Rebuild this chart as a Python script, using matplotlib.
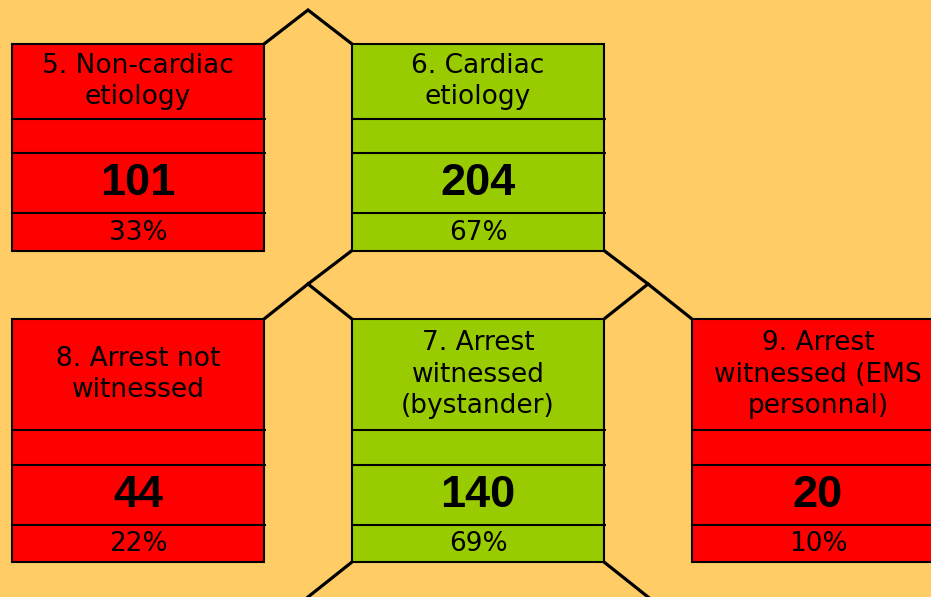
import matplotlib
matplotlib.use("Agg")
import matplotlib.pyplot as plt
from matplotlib.patches import Rectangle

# ---- data ----
titles = ["5. Non-cardiac\netiology", "6. Cardiac\netiology",
          "8. Arrest not\nwitnessed", "7. Arrest\nwitnessed\n(bystander)",
          "9. Arrest\nwitnessed (EMS\npersonnal)"]
counts = [101, 204, 44, 140, 20]
percents = ["33%", "67%", "22%", "69%", "10%"]
colors_key = ["red", "green", "red", "green", "red"]

# ---- layout (pixels) ----
W, H = 931, 597
BG = "#FFCC66"
PAL = {"red": "#FF0000", "green": "#99CC00"}
box_x = [12, 352, 12, 352, 692]
box_w = 252
# rows: top, title bottom, blank bottom, number bottom, bottom
rows = [
    [44, 118.5, 152.5, 212.5, 250.5],
    [44, 118.5, 152.5, 212.5, 250.5],
    [319, 429.5, 465, 524.5, 562],
    [319, 429.5, 465, 524.5, 562],
    [319, 429.5, 465, 524.5, 562],
]

fig = plt.figure(figsize=(W / 100, H / 100), dpi=100)
fig.patch.set_facecolor(BG)
ax = fig.add_axes([0, 0, 1, 1])
ax.set_xlim(0, W)
ax.set_ylim(H, 0)
ax.axis("off")
ax.set_facecolor(BG)

FONT = "DejaVu Sans"
FONT_NUM = "Liberation Sans"
lw_box = 1.5
lw_conn = 2.3

for i in range(len(titles)):
    x0 = box_x[i]
    r = rows[i]
    ax.add_patch(Rectangle((x0, r[0]), box_w, r[4] - r[0],
                           facecolor=PAL[colors_key[i]], edgecolor="black",
                           linewidth=lw_box, zorder=2))
    for yy in r[1:4]:
        ax.plot([x0, x0 + box_w + 2], [yy, yy], color="black",
                linewidth=lw_box, zorder=3, solid_capstyle="butt")
    cx = x0 + box_w / 2
    ax.text(cx, (r[0] + r[1]) / 2 + 0.5, titles[i], ha="center", va="center",
            fontsize=19, family=FONT, linespacing=1.27, zorder=4)
    ax.text(cx, (r[2] + r[3]) / 2 + 1, str(counts[i]), ha="center",
            va="center", fontsize=32.5, fontweight="bold", family=FONT_NUM,
            zorder=4)
    ax.text(cx, (r[3] + r[4]) / 2 + 1, percents[i], ha="center",
            va="center", fontsize=19, family=FONT, zorder=4)

# ---- connectors ----
conn = [
    ([264, 308, 352], [44, 10, 44]),
    ([352, 308, 264], [250.5, 284, 319]),
    ([308, 352], [284, 319]),
    ([604, 648, 604], [250.5, 284, 319]),
    ([648, 692], [284, 319]),
    ([352, 308], [562, 597]),
    ([604, 648], [562, 597]),
]
for xs, ys in conn:
    ax.plot(xs, ys, color="black", linewidth=lw_conn, zorder=1,
            solid_joinstyle="miter")

fig.savefig("out.png", dpi=100, facecolor=BG)
